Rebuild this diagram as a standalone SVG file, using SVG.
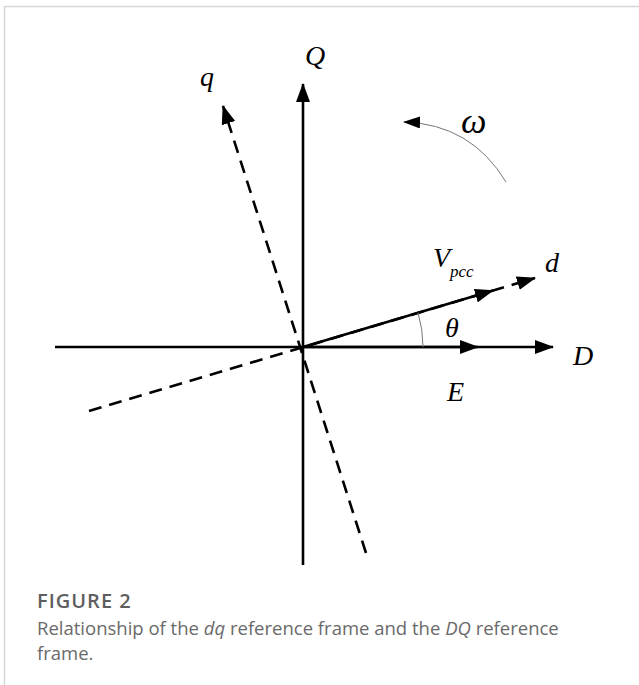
<svg xmlns="http://www.w3.org/2000/svg" width="639" height="685" viewBox="0 0 639 685">
<style>
.ax{stroke:#000;stroke-width:2.6;fill:none}
.dash{stroke-dasharray:13 8}
.thin{stroke:#777;stroke-width:1;fill:none}
.lbl{font-family:"Liberation Serif",serif;font-style:italic;font-size:28px;fill:#000}
.cap{font-family:"Open Sans","Liberation Sans",sans-serif;fill:#6a6a6a;font-size:18.5px}
</style>
<defs>
<marker id="ah" markerUnits="userSpaceOnUse" markerWidth="20" markerHeight="14" refX="18" refY="7" orient="auto">
<path d="M0,0 L19,7 L0,14 z" fill="#000"/>
</marker>
<marker id="ahs" markerUnits="userSpaceOnUse" markerWidth="18" markerHeight="12" refX="16" refY="6" orient="auto">
<path d="M0,0 L17,6 L0,12 z" fill="#000"/>
</marker>
</defs>
<rect width="639" height="685" fill="#fff"/>
<path d="M4.5,685 V6.5 H639" stroke="#d6d6d6" stroke-width="1.5" fill="none"/>
<g id="connectors">
<line id="axis-D" class="ax" x1="55" y1="347" x2="553" y2="347" marker-end="url(#ah)"/>
<line id="vec-E" class="ax" x1="303" y1="347" x2="478" y2="347" marker-end="url(#ah)"/>
<line id="axis-Q" class="ax" x1="303" y1="565" x2="303" y2="84" marker-end="url(#ah)"/>
<line id="axis-d" class="ax dash" x1="89" y1="411" x2="535" y2="278" marker-end="url(#ah)"/>
<line id="axis-q" class="ax dash" x1="366" y1="553" x2="223" y2="106" marker-end="url(#ah)"/>
<line id="vec-Vpcc" class="ax" x1="303" y1="347" x2="493" y2="290.5" marker-end="url(#ah)"/>
<path id="arc-theta" class="thin" d="M423,347 A120,120 0 0 0 418,312.6"/>
<path id="arc-omega" class="thin" d="M506,182 Q471,124 404,122" marker-end="url(#ahs)"/>
</g>
<g id="label-Q"><text class="lbl" x="305" y="65">Q</text></g>
<g id="label-q"><text class="lbl" x="200" y="86">q</text></g>
<g id="label-omega"><text class="lbl" x="461" y="133" style="font-size:36px">ω</text></g>
<g id="label-Vpcc"><text class="lbl" x="433" y="267">V</text><text class="lbl" x="450" y="277" style="font-size:17px">pcc</text></g>
<g id="label-d"><text class="lbl" x="545" y="272">d</text></g>
<g id="label-theta"><text class="lbl" x="445" y="337">θ</text></g>
<g id="label-D"><text class="lbl" x="573" y="365">D</text></g>
<g id="label-E"><text class="lbl" x="447" y="401">E</text></g>
<g id="caption">
<text class="cap" x="37" y="608" style="font-weight:600;font-size:20px;letter-spacing:1px;fill:#5e5e5e">FIGURE 2</text>
<text class="cap" x="37" y="635">Relationship of the <tspan font-style="italic">dq</tspan> reference frame and the <tspan font-style="italic">DQ</tspan> reference</text>
<text class="cap" x="37" y="660">frame.</text>
</g>
</svg>
